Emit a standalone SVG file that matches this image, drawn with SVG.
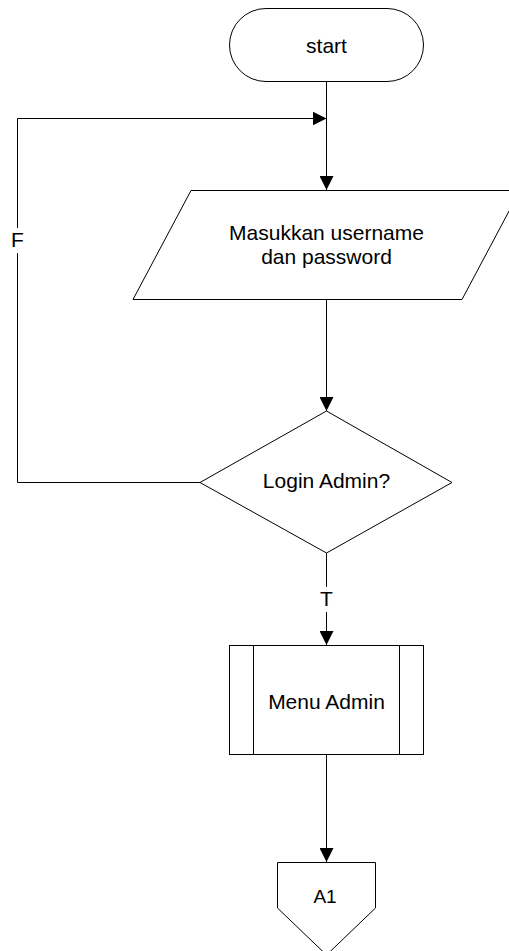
<svg xmlns="http://www.w3.org/2000/svg" width="509" height="951" viewBox="0 0 509 951">
  <defs>
    <marker id="arrow" markerWidth="14" markerHeight="14" refX="14" refY="7" orient="auto" markerUnits="userSpaceOnUse">
      <path d="M0,0 L14,7 L0,14 Z" fill="#000"/>
    </marker>
    <style>
      .shape { fill: #fff; stroke: #000; stroke-width: 1; }
      .line { fill: none; stroke: #000; stroke-width: 1; }
      .edge { fill: none; stroke: #000; stroke-width: 1; marker-end: url(#arrow); }
      .label { font-family: "Liberation Sans", Arial, sans-serif; font-size: 21px; fill: #000; text-anchor: middle; }
      .small { font-size: 19px; }
    </style>
  </defs>
  <rect width="509" height="951" fill="#fff"/>

  <g id="connectors">
    <line class="edge" x1="326.5" y1="82" x2="326.5" y2="190"/>
    <polyline class="edge" points="200,482.5 17.5,482.5 17.5,118.5 326.5,118.5"/>
    <line class="edge" x1="326.5" y1="299" x2="326.5" y2="411"/>
    <line class="edge" x1="326.5" y1="553" x2="326.5" y2="645"/>
    <line class="edge" x1="326.5" y1="754" x2="326.5" y2="862"/>
    <rect x="10" y="228" width="15" height="25" fill="#fff"/>
    <text class="label" x="17.5" y="247">F</text>
    <rect x="318" y="587" width="17" height="25" fill="#fff"/>
    <text class="label" x="326.5" y="606">T</text>
  </g>

  <g id="start">
    <rect class="shape" x="229.5" y="8.5" width="194" height="73" rx="36.5" ry="36.5"/>
    <text class="label" x="326.5" y="53">start</text>
  </g>

  <g id="input">
    <polygon class="shape" points="191,190.5 520,190.5 462,299.5 133,299.5"/>
    <text class="label" x="326.5" y="240">Masukkan username</text>
    <text class="label" x="326.5" y="264">dan password</text>
  </g>

  <g id="decision">
    <polygon class="shape" points="326.5,411 452,482.5 326.5,553 200,482.5"/>
    <text class="label" x="326.5" y="488">Login Admin?</text>
  </g>

  <g id="menu-admin">
    <rect class="shape" x="229.5" y="645.5" width="194" height="109"/>
    <line class="line" x1="253.5" y1="645.5" x2="253.5" y2="754.5"/>
    <line class="line" x1="399.5" y1="645.5" x2="399.5" y2="754.5"/>
    <text class="label" x="326.5" y="709">Menu Admin</text>
  </g>

  <g id="a1">
    <polygon class="shape" points="277.5,862.5 375.5,862.5 375.5,908 326.5,955 277.5,908"/>
    <text class="label small" x="325" y="903">A1</text>
  </g>
</svg>
